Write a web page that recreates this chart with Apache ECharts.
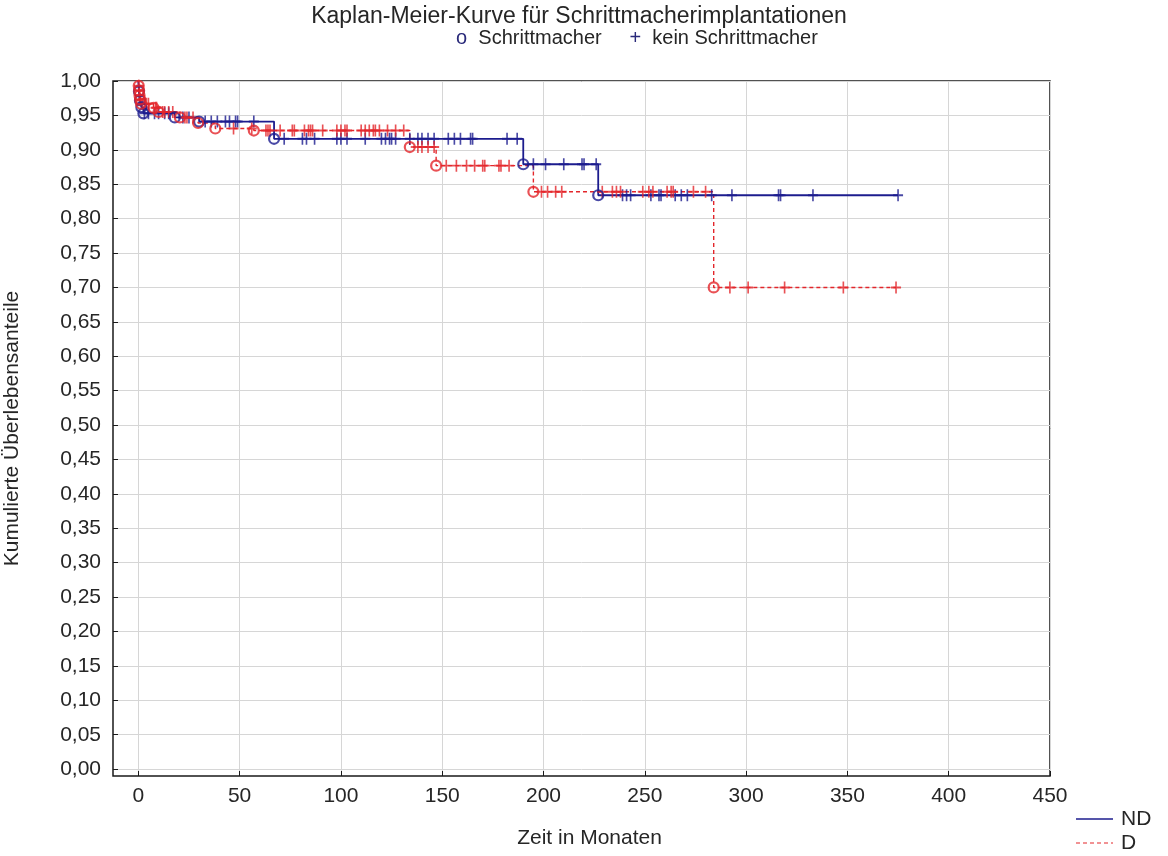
<!DOCTYPE html>
<html><head><meta charset="utf-8">
<script src="https://cdn.jsdelivr.net/npm/echarts@6/dist/echarts.min.js"></script>
<style>html,body{margin:0;padding:0;background:#fff}#c{width:1168px;height:856px}</style>
</head><body><div id="c"></div>
<script>
// ---- data ----
const xTicks = [0, 50, 100, 150, 200, 250, 300, 350, 400, 450];
const yTicks = [0.00, 0.05, 0.10, 0.15, 0.20, 0.25, 0.30, 0.35, 0.40, 0.45, 0.50,
                0.55, 0.60, 0.65, 0.70, 0.75, 0.80, 0.85, 0.90, 0.95, 1.00];

// ND group: event times (pacemaker implanted) and survival after each step
const ndTime = [0, 0.3, 0.8, 1.5, 2.5, 18, 30, 67, 190, 227];
const ndSurv = [1.000, 0.985, 0.972, 0.962, 0.953, 0.947, 0.941, 0.916, 0.879, 0.834];
// ND censored times (no pacemaker)
const ndCensor = [3, 5, 8, 10, 13, 15, 22, 25, 33, 36, 39, 43, 45, 48, 49, 57,
  72, 81, 83, 87, 98, 100, 103, 112, 120, 122, 124, 125, 127, 134, 138, 140, 143, 146,
  153, 156, 159, 164, 165, 182, 187, 195, 201, 210, 219, 220, 226,
  239, 241, 243, 253, 257, 258, 265, 268, 271, 283, 293, 316, 317, 333, 375];

// D group
const dTime = [0, 0.2, 0.4, 0.6, 0.9, 1.3, 7.5, 10, 20.5, 29.5, 38, 57, 134, 147, 195, 284];
const dSurv = [1.000, 0.993, 0.986, 0.979, 0.973, 0.967, 0.961, 0.955, 0.947, 0.939, 0.931, 0.928, 0.904, 0.877, 0.839, 0.700];
const dCensor = [0.3, 0.5, 0.7, 1.0, 2, 3, 4, 5, 8.5, 9, 12, 13, 15, 17, 23, 24, 27,
  47, 56, 63, 64, 65, 70, 76, 77, 82, 84, 85, 86, 91, 98, 100, 102, 103, 110, 112, 114, 116, 117,
  119, 123, 127, 131, 138, 140, 143, 146, 152, 157, 162, 166, 170, 171, 178, 179, 183,
  199, 202, 206, 209, 229, 234, 236, 238, 249, 252, 254, 261, 263, 264, 274, 280,
  292, 301, 319, 348, 374];

// ---- helpers ----
function survAt(times, survs, t) {
  let s = survs[0];
  for (let i = 0; i < times.length; i++) if (times[i] <= t) s = survs[i];
  return s;
}
function stepLine(times, survs, censor) {
  const d = times.map((t, i) => [t, survs[i]]);
  const tEnd = Math.max(...censor);
  d.push([tEnd, survs[survs.length - 1]]);
  return d;
}
function events(times, survs) {
  return times.slice(1).map((t, i) => [t, survs[i + 1]]);
}
function censPts(times, survs, censor) {
  return censor.map(t => [t, survAt(times, survs, t)]);
}

const BLUE = '#1c1c8e';
const RED = '#e3262b';
const FONT = 'Liberation Sans, Arial, sans-serif';
const TXT = '#262626';
const PLUS = 'path://M5 0L5 12M0 6L10 6';

const chart = echarts.init(document.getElementById('c'), null, {renderer: 'canvas'});
chart.setOption({
  animation: false,
  backgroundColor: '#fff',
  title: {
    text: 'Kaplan-Meier-Kurve für Schrittmacherimplantationen',
    left: 574, top: 0, textAlign: 'center',
    textStyle: {fontFamily: FONT, fontSize: 23, fontWeight: 'normal', color: TXT}
  },
  grid: {left: 113, right: 118, top: 81, bottom: 80, show: true, containLabel: false,
         outerBoundsMode: 'none',
         borderColor: '#1a1a1a', borderWidth: 1.5, backgroundColor: '#fff'},
  xAxis: {
    type: 'value', min: -12.5, max: 450,
    name: 'Zeit in Monaten', nameLocation: 'middle', nameGap: 52,
    nameTextStyle: {fontFamily: FONT, fontSize: 21, color: TXT, padding: [0, 0, 0, 16]},
    axisLine: {show: false, onZero: false},
    axisTick: {show: true, inside: true, length: 5, customValues: xTicks,
               lineStyle: {color: '#1a1a1a', width: 1}},
    axisLabel: {customValues: xTicks, fontFamily: FONT, fontSize: 21, color: TXT, margin: 10},
    splitLine: {show: true, lineStyle: {color: '#d6d6d6', width: 1}}
  },
  yAxis: {
    type: 'value', min: -0.01, max: 1.0,
    name: 'Kumulierte Überlebensanteile', nameLocation: 'middle', nameGap: 90, nameRotate: 90,
    nameTextStyle: {fontFamily: FONT, fontSize: 21, color: TXT},
    axisLine: {show: false, onZero: false},
    axisTick: {show: true, inside: true, length: 5, customValues: yTicks,
               lineStyle: {color: '#1a1a1a', width: 1}},
    axisLabel: {customValues: yTicks, fontFamily: FONT, fontSize: 21, color: TXT, margin: 12,
                formatter: v => v.toFixed(2).replace('.', ',')},
    splitLine: {show: true, lineStyle: {color: '#d6d6d6', width: 1}}
  },
  graphic: [
    {type: 'text', x: 637, y: 38, silent: true,
     style: {text: '{s|o}  Schrittmacher     {s|+}  kein Schrittmacher',
             font: '20px ' + FONT, fill: TXT, align: 'center', verticalAlign: 'middle',
             rich: {s: {fill: '#2a2a7a', font: '20px ' + FONT}}}},
    {type: 'line', shape: {x1: 1076, y1: 819, x2: 1113, y2: 819},
     style: {stroke: BLUE, lineWidth: 1.5}},
    {type: 'text', x: 1121, y: 819,
     style: {text: 'ND', font: '21px ' + FONT, fill: TXT, verticalAlign: 'middle'}},
    {type: 'line', shape: {x1: 1076, y1: 843, x2: 1113, y2: 843},
     style: {stroke: RED, lineWidth: 1.2, lineDash: [4, 3]}},
    {type: 'text', x: 1121, y: 843,
     style: {text: 'D', font: '21px ' + FONT, fill: TXT, verticalAlign: 'middle'}}
  ],
  series: [
    {name: 'ND', type: 'line', step: 'end', showSymbol: false, silent: true, z: 3,
     data: stepLine(ndTime, ndSurv, ndCensor), lineStyle: {color: BLUE, width: 1.8}},
    {name: 'D', type: 'line', step: 'end', showSymbol: false, silent: true, z: 2,
     data: stepLine(dTime, dSurv, dCensor), lineStyle: {color: RED, width: 1.4, type: [4, 3]}},
    {name: 'ND kein', type: 'scatter', symbol: PLUS, symbolSize: [10, 12], silent: true, z: 4,
     data: censPts(ndTime, ndSurv, ndCensor),
     itemStyle: {color: 'rgba(0,0,0,0)', borderColor: BLUE, borderWidth: 1.8}},
    {name: 'D kein', type: 'scatter', symbol: PLUS, symbolSize: [10, 12], silent: true, z: 4,
     data: censPts(dTime, dSurv, dCensor),
     itemStyle: {color: 'rgba(0,0,0,0)', borderColor: RED, borderWidth: 1.8}},
    {name: 'ND SM', type: 'scatter', symbol: 'circle', symbolSize: 10, silent: true, z: 5,
     data: events(ndTime, ndSurv),
     itemStyle: {color: 'rgba(0,0,0,0)', borderColor: BLUE, borderWidth: 2.2}},
    {name: 'D SM', type: 'scatter', symbol: 'circle', symbolSize: 10, silent: true, z: 5,
     data: events(dTime, dSurv),
     itemStyle: {color: 'rgba(0,0,0,0)', borderColor: RED, borderWidth: 2.2}}
  ]
});
</script>
</body></html>
